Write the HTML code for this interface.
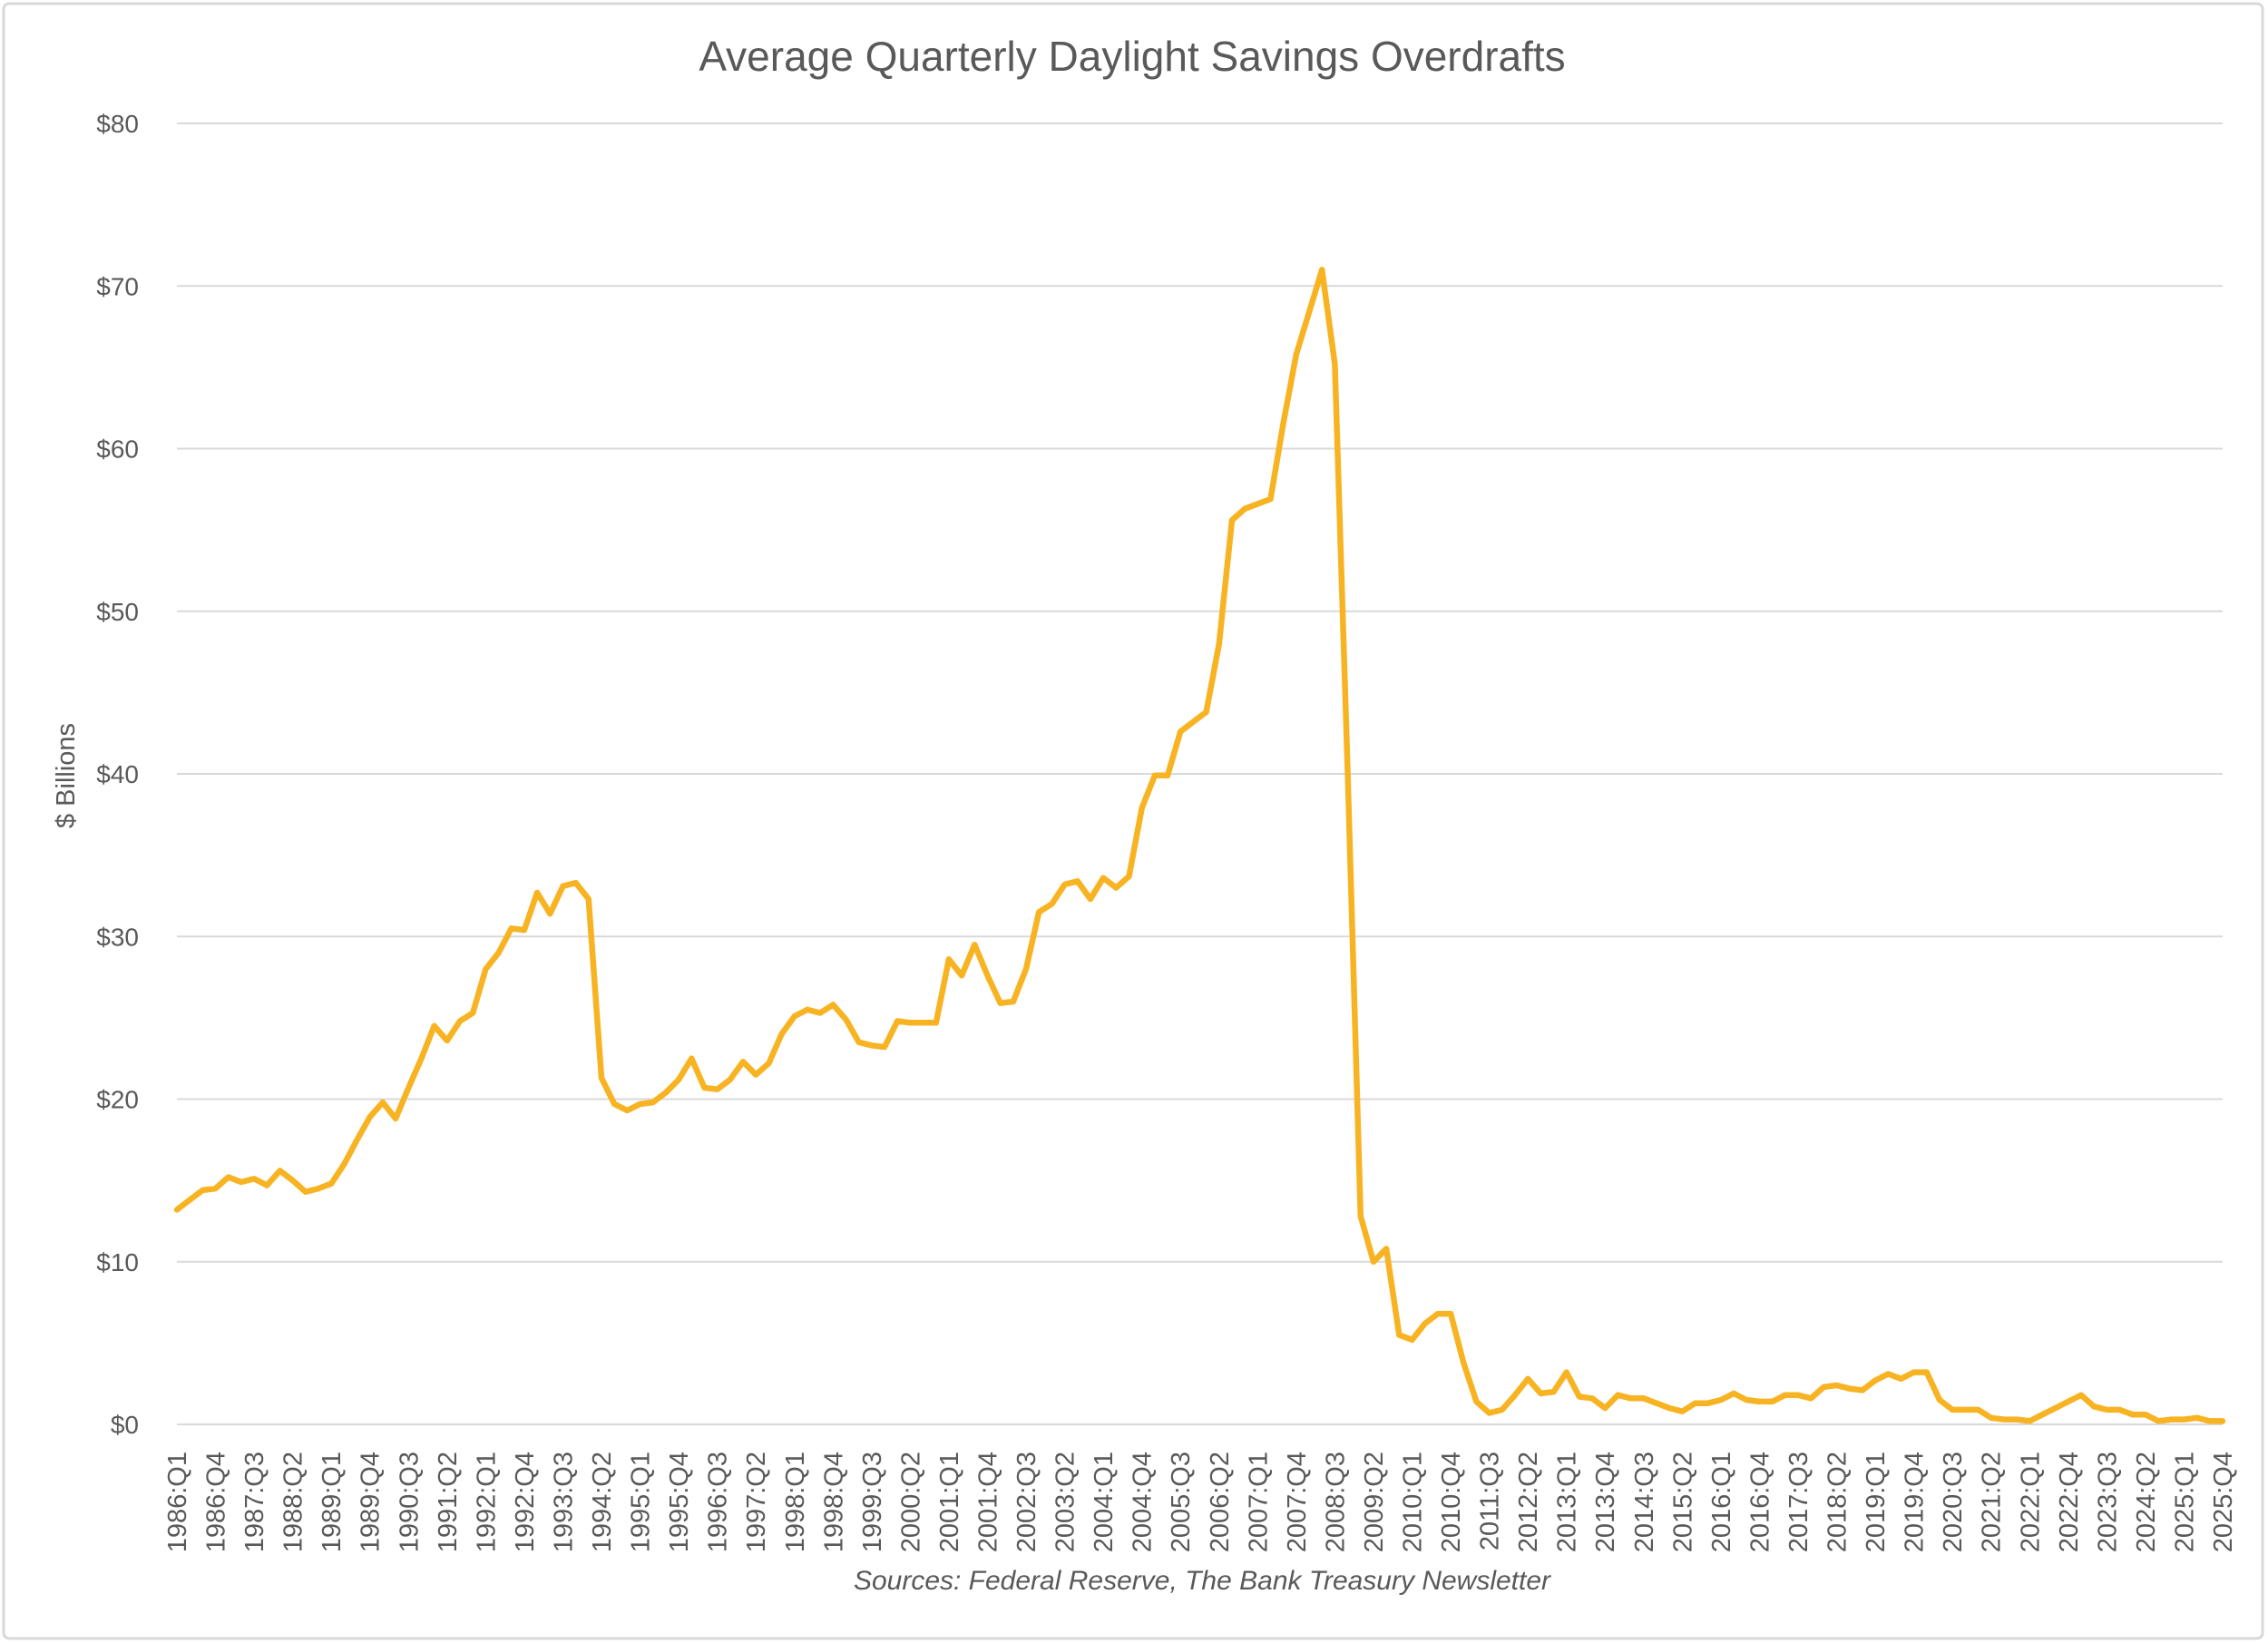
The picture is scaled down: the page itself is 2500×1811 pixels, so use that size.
<!DOCTYPE html>
<html><head><meta charset="utf-8"><style>
html,body{margin:0;padding:0;background:#fff;}
svg{display:block;font-family:"Liberation Sans",sans-serif;}
</style></head><body>
<svg id="chart" width="2500" height="1811" viewBox="0 0 2500 1811" xmlns="http://www.w3.org/2000/svg">
<rect x="4" y="4" width="2490" height="1802" rx="6" fill="#fff" stroke="#d9d9d9" stroke-width="3"/>
<text x="1248" y="78" text-anchor="middle" font-size="46" fill="#595959">Average Quarterly Daylight Savings Overdrafts</text>
<text transform="translate(82,855) rotate(-90)" text-anchor="middle" font-size="29" fill="#595959">$ Billions</text>
<text x="1325" y="1752" text-anchor="middle" font-size="30" font-style="italic" fill="#595959">Sources: Federal Reserve, The Bank Treasury Newsletter</text>
<g id="grid"></g>
<g id="ylabels"></g>
<g id="xlabels"></g>
<g id="series"></g>
</svg>
<script>
const startYear = 1986;
const yTicks = [0,10,20,30,40,50,60,70,80];
const yTickLabels = ["$0","$10","$20","$30","$40","$50","$60","$70","$80"];
const overdrafts = [
13.2,13.8,14.4,14.5, 15.2,14.9,15.1,14.7, 15.6,15.0,14.3,14.5, 14.8,16.0,17.5,18.9,
19.8,18.8,20.7,22.5, 24.5,23.6,24.8,25.3, 28.0,29.0,30.5,30.4, 32.7,31.4,33.1,33.3,
32.3,21.3,19.7,19.3, 19.7,19.8,20.4,21.2, 22.5,20.7,20.6,21.2, 22.3,21.5,22.2,24.0,
25.1,25.5,25.3,25.8, 24.9,23.5,23.3,23.2, 24.8,24.7,24.7,24.7, 28.6,27.6,29.5,27.6,
25.9,26.0,28.0,31.5, 32.0,33.2,33.4,32.3, 33.6,33.0,33.7,37.9, 39.9,39.9,42.6,43.2,
43.8,48.0,55.6,56.3, 56.6,56.9,61.6,65.8, 68.4,71.0,65.2,40.0, 12.8,10.0,10.8,5.5,
5.2,6.2,6.8,6.8, 3.8,1.4,0.7,0.9, 1.8,2.8,1.9,2.0, 3.2,1.7,1.6,1.0,
1.8,1.6,1.6,1.3, 1.0,0.8,1.3,1.3, 1.5,1.9,1.5,1.4, 1.4,1.8,1.8,1.6,
2.3,2.4,2.2,2.1, 2.7,3.1,2.8,3.2, 3.2,1.5,0.9,0.9, 0.9,0.4,0.3,0.3,
0.2,0.6,1.0,1.4, 1.8,1.1,0.9,0.9, 0.6,0.6,0.2,0.3, 0.3,0.4,0.2,0.2
];
const categories = overdrafts.map((v,i)=> (startYear+Math.floor(i/4))+":Q"+(i%4+1));

const NS="http://www.w3.org/2000/svg";
const X0=195, X1=2450, Y0=1570, Y80=136;
const xScale = i => X0 + (X1-X0)*i/(categories.length-1);
const yScale = v => Y0 - (Y0-Y80)*v/80;

const grid=document.getElementById('grid'), yl=document.getElementById('ylabels'), xl=document.getElementById('xlabels'), ser=document.getElementById('series');
yTicks.forEach((t,k)=>{
  const ln=document.createElementNS(NS,'line');
  ln.setAttribute('x1',X0);ln.setAttribute('x2',X1);
  ln.setAttribute('y1',yScale(t));ln.setAttribute('y2',yScale(t));
  ln.setAttribute('stroke','#d9d9d9');ln.setAttribute('stroke-width','2');
  
  
  grid.appendChild(ln);
  const tx=document.createElementNS(NS,'text');
  tx.setAttribute('x',153);tx.setAttribute('y',yScale(t)+10);
  tx.setAttribute('text-anchor','end');tx.setAttribute('font-size','28');tx.setAttribute('fill','#595959');
  tx.textContent=yTickLabels[k];
  
  
  yl.appendChild(tx);
});
categories.forEach((c,i)=>{
  if(i%3!==0) return;
  const tx=document.createElementNS(NS,'text');
  const x=xScale(i)+10;
  tx.setAttribute('transform','translate('+x+',1600) rotate(-90)');
  tx.setAttribute('text-anchor','end');tx.setAttribute('font-size','29');tx.setAttribute('fill','#595959');
  tx.textContent=c;
  
  
  xl.appendChild(tx);
});
const path=document.createElementNS(NS,'polyline');
path.setAttribute('points',overdrafts.map((v,i)=>xScale(i).toFixed(1)+','+yScale(v).toFixed(1)).join(' '));
path.setAttribute('fill','none');path.setAttribute('stroke','#F8B323');path.setAttribute('stroke-width','6.5');
path.setAttribute('stroke-linejoin','round');path.setAttribute('stroke-linecap','round');


ser.appendChild(path);
</script>
</body></html>
